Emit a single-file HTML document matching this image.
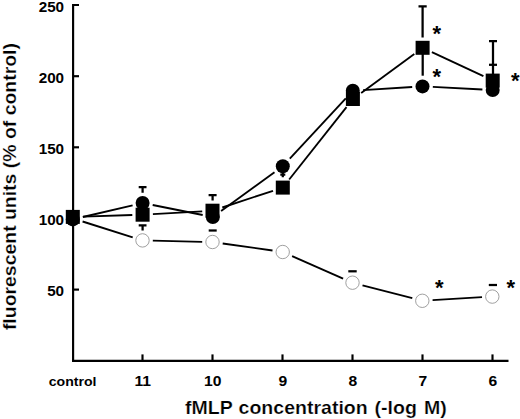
<!DOCTYPE html>
<html><head><meta charset="utf-8"><title>chart</title>
<style>
html,body{margin:0;padding:0;background:#fff;}
body{width:520px;height:419px;overflow:hidden;font-family:"Liberation Sans",sans-serif;}
svg{display:block;}
text{font-family:"Liberation Sans",sans-serif;font-weight:bold;fill:#000;}
.t{stroke:#fff;stroke-width:0.22px;}
</style></head><body>
<svg width="520" height="419" viewBox="0 0 520 419">
<rect width="520" height="419" fill="#fff"/>

<g stroke="#000" stroke-width="2.15" fill="none" stroke-linecap="butt">
<path d="M79 5H73.1V360.8H508.5"/>
<path d="M73 76.2H79"/>
<path d="M73 147.3H79"/>
<path d="M73 218.5H79"/>
<path d="M73 289.6H79"/>
<path d="M142.5 360V354.4"/>
<path d="M212.5 360V354.4"/>
<path d="M282.5 360V354.4"/>
<path d="M352.5 360V354.4"/>
<path d="M422.5 360V354.4"/>
<path d="M492.5 360V354.4"/>
</g>
<g stroke="#000" stroke-width="1.85" fill="none">
<path d="M83.1 216.6L132.3 215.0"/>
<path d="M152.9 214.1L202.2 211.3"/>
<path d="M222.3 207.5L273.0 190.8"/>
<path d="M289.2 179.5L346.5 107.1"/>
<path d="M361.2 92.9L414.3 53.9"/>
<path d="M431.9 52.2L483.4 76.2"/>
<path d="M82.8 217.0L132.6 205.4"/>
<path d="M152.7 205.0L202.7 215.0"/>
<path d="M221.1 211.0L274.5 172.2"/>
<path d="M289.8 158.7L345.8 98.3"/>
<path d="M363.1 90.2L412.2 87.0"/>
<path d="M432.8 86.9L482.4 89.5"/>
<path d="M82.6 221.5L132.7 237.3"/>
<path d="M152.8 240.6L202.2 241.8"/>
<path d="M222.7 243.5L272.5 250.5"/>
<path d="M292.1 256.1L343.1 278.6"/>
<path d="M362.5 285.3L412.3 298.2"/>
<path d="M432.6 300.2L482.0 297.2"/>
</g>
<g stroke="#000" stroke-width="2.25" fill="none">
<path d="M138.7 187.0H146.5M142.6 187.0V192.7"/>
<path d="M138.7 225.4H146.5M142.6 225.4V230.4"/>
<path d="M208.6 195.0H216.6M212.6 195.0V200.5"/>
<path d="M208.7 230.5H216.7"/>
<path d="M280.3 174.7H285.3M282.8 172V177.3"/>
<path d="M418.5 6.4H426.7M422.6 6.4V37.4"/>
<path d="M422.7 54V75.7"/>
<path d="M489.0 41.0H497.0M493.0 41.0V74.0"/>
<path d="M489.0 64.8H497.0"/>
<path d="M348.3 271.3H356.7"/>
<path d="M488.8 285.0H497.0"/>
</g>
<g fill="#000" stroke="none">
<circle cx="72.8" cy="219.4" r="7.0"/>
<circle cx="142.6" cy="203.0" r="7.0"/>
<circle cx="212.8" cy="217.0" r="7.0"/>
<circle cx="282.8" cy="166.2" r="7.0"/>
<circle cx="352.8" cy="90.8" r="7.0"/>
<circle cx="422.5" cy="86.4" r="7.0"/>
<circle cx="492.7" cy="90.0" r="7.0"/>
<rect x="65.8" y="209.9" width="14.0" height="14.0"/>
<rect x="135.6" y="207.7" width="14.0" height="14.0"/>
<rect x="205.5" y="203.7" width="14.0" height="14.0"/>
<rect x="275.8" y="180.6" width="14.0" height="14.0"/>
<rect x="345.9" y="92.0" width="14.0" height="14.0"/>
<rect x="415.6" y="40.8" width="14.0" height="14.0"/>
<rect x="485.7" y="73.6" width="14.0" height="14.0"/>
</g>
<g fill="#fff" stroke="#888" stroke-width="0.8">
<circle cx="142.5" cy="240.4" r="6.7"/>
<circle cx="212.5" cy="242.0" r="6.7"/>
<circle cx="282.7" cy="252.0" r="6.7"/>
<circle cx="352.5" cy="282.7" r="6.7"/>
<circle cx="422.3" cy="300.8" r="6.7"/>
<circle cx="492.3" cy="296.6" r="6.7"/>
</g>
<g font-size="14" text-anchor="end">
<text transform="translate(64.1,11.7) scale(1.09,1)">250</text>
<text transform="translate(64.1,82.9) scale(1.09,1)">200</text>
<text transform="translate(64.1,154.0) scale(1.09,1)">150</text>
<text transform="translate(64.1,225.2) scale(1.09,1)">100</text>
<text transform="translate(64.1,296.3) scale(1.09,1)">50</text>
</g>
<g text-anchor="middle">
<text transform="translate(72.6,385.8) scale(1.07,1)" font-size="13.2">control</text>
<text transform="translate(142.8,385.7) scale(1.12,1)" font-size="14">11</text>
<text transform="translate(212.8,385.7) scale(1.12,1)" font-size="14">10</text>
<text transform="translate(282.8,385.7) scale(1.12,1)" font-size="14">9</text>
<text transform="translate(352.8,385.7) scale(1.12,1)" font-size="14">8</text>
<text transform="translate(422.8,385.7) scale(1.12,1)" font-size="14">7</text>
<text transform="translate(492.8,385.7) scale(1.12,1)" font-size="14">6</text>
</g>
<text class="t" transform="translate(185,413.7) scale(1.086,1)" font-size="18">fMLP<tspan dx="0.4"> concentration</tspan><tspan dx="1.4"> (-log</tspan><tspan dx="1.5"> M)</tspan></text>
<text class="t" transform="translate(15.7,330.1) rotate(-90) scale(1.08,1)" font-size="18">fluorescent units (% of control)</text>
<g font-size="22" text-anchor="middle">
<text x="436.8" y="41.1">*</text>
<text x="436.8" y="83.5">*</text>
<text x="515.4" y="87.9">*</text>
<text x="439.3" y="295.0">*</text>
<text x="510.8" y="295.0">*</text>
</g>
</svg></body></html>
